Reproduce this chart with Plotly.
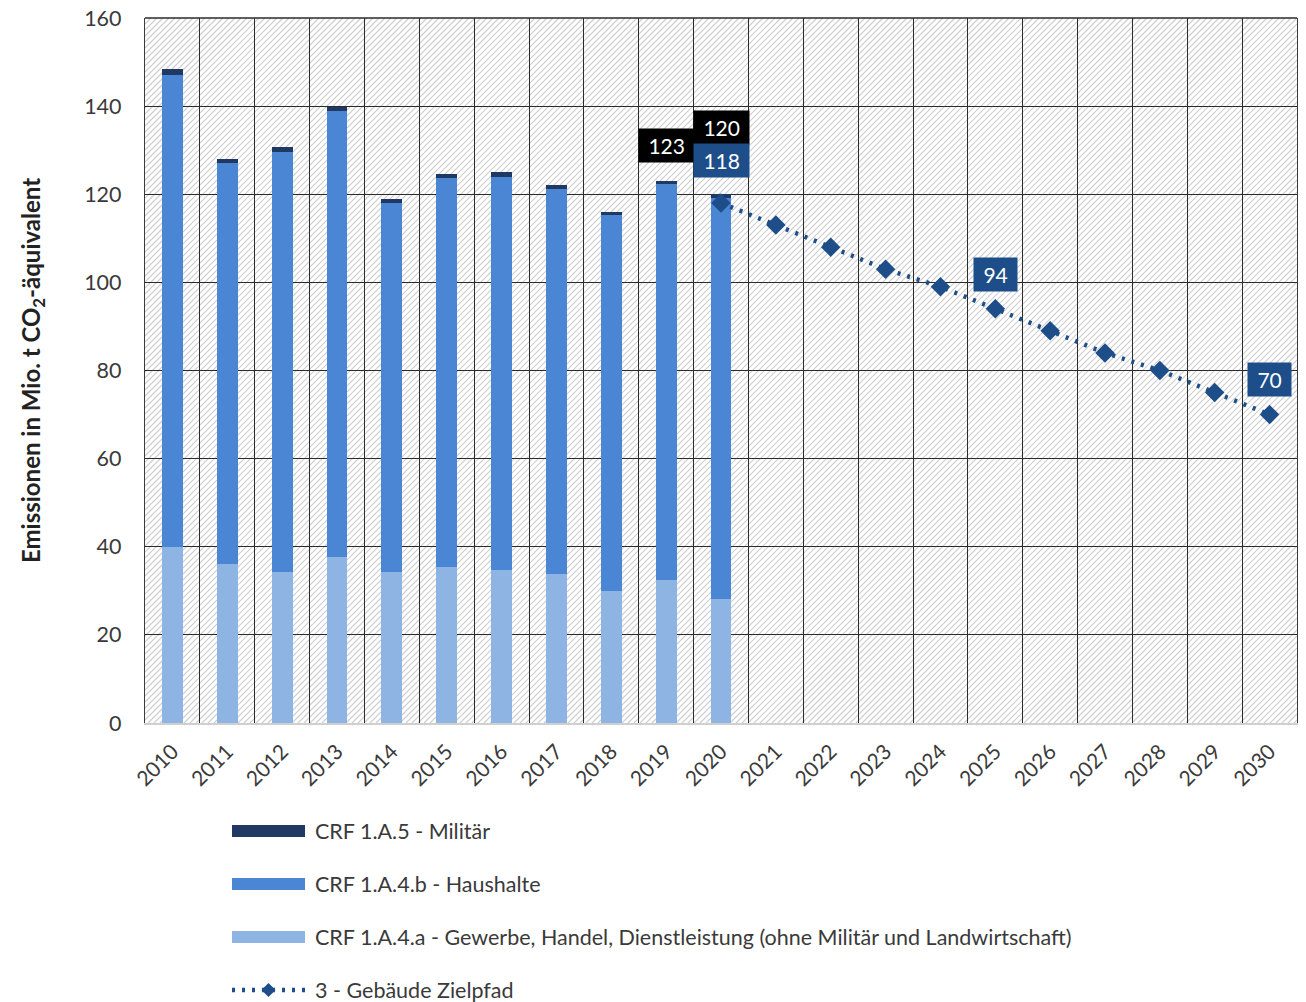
import plotly.graph_objects as go

# --- data -----------------------------------------------------------------
years = [str(y) for y in range(2010, 2031)]
hist_years = years[:11]          # 2010-2020 inventory years
path_years = years[10:]          # 2020-2030 target path

gewerbe = [40.0, 36.1, 34.3, 37.7, 34.3, 35.4, 34.7, 33.8, 30.0, 32.5, 28.1]
haushalte = [107.1, 90.9, 95.2, 101.2, 83.7, 88.2, 89.3, 87.5, 85.4, 89.9, 91.1]
militaer = [1.3, 1.0, 1.2, 1.0, 0.9, 1.0, 1.0, 0.8, 0.6, 0.6, 0.8]
zielpfad = [118, 113, 108, 103, 99, 94, 89, 84, 80, 75, 70]

totals = [round(a + b + c, 1) for a, b, c in zip(gewerbe, haushalte, militaer)]

y_ticks = [0, 20, 40, 60, 80, 100, 120, 140, 160]

names = {
    "mil": "CRF 1.A.5 - Militär",
    "hh": "CRF 1.A.4.b - Haushalte",
    "gw": "CRF 1.A.4.a - Gewerbe, Handel, Dienstleistung (ohne Militär und Landwirtschaft)",
    "zp": "3 - Gebäude Zielpfad",
}

# --- styling --------------------------------------------------------------
C_MIL = "#1f3864"
C_HH = "#4a86d4"
C_GW = "#8db4e2"
C_ZP = "#1d4e89"
FONT = "Lato"
TXT = "#3a3a3a"

W, H = 1306, 1002
M_L, M_R, M_T, M_B = 145, 9, 18, 279
PW, PH = W - M_L - M_R, H - M_T - M_B

fig = go.Figure()

fig.add_trace(go.Bar(x=hist_years, y=gewerbe, name=names["gw"], marker_color=C_GW,
                     marker_line_width=0))
fig.add_trace(go.Bar(x=hist_years, y=haushalte, name=names["hh"], marker_color=C_HH,
                     marker_line_width=0))
fig.add_trace(go.Bar(x=hist_years, y=militaer, name=names["mil"], marker_color=C_MIL,
                     marker_line_width=0))
fig.add_trace(go.Scatter(x=path_years, y=zielpfad, name=names["zp"], mode="lines+markers",
                         line=dict(color=C_ZP, width=4.5, dash="3px,7px"),
                         marker=dict(symbol="diamond", size=15, color=C_ZP)))

# --- diagonal hatching of the plot background -------------------------------
step = 6.0
segs = []
c = -PH
while c <= PW:
    if c >= 0:
        u0, v0 = c, 0.0
    else:
        u0, v0 = 0.0, -c
    if PW - c <= PH:
        u1, v1 = PW, PW - c
    else:
        u1, v1 = PH + c, PH
    segs.append(f"M{u0 / PW:.5f},{v0 / PH:.5f}L{u1 / PW:.5f},{v1 / PH:.5f}")
    c += step
hatch = dict(type="path", path="".join(segs), xref="paper", yref="paper",
             line=dict(color="#cfcfcf", width=1.2), layer="below")

shapes = [hatch]
# top border of the plot area
shapes.append(dict(type="line", xref="paper", yref="paper", x0=0, x1=1, y0=1, y1=1,
                   line=dict(color="#2b2b2b", width=1.3), layer="above"))

# --- value labels -----------------------------------------------------------
# numeric-looking category names are addressed by their index on the axis
NB = "&nbsp;"
i19 = hist_years.index("2019")
i20 = hist_years.index("2020")
labels = [
    ("2019", totals[i19], 36, "black"),
    ("2020", totals[i20], 67, "black"),
    ("2020", zielpfad[0], 43, C_ZP),
    ("2025", zielpfad[path_years.index("2025")], 34, C_ZP),
    ("2030", zielpfad[path_years.index("2030")], 35, C_ZP),
]
annotations = []
for xv, yv, shift, bg in labels:
    annotations.append(dict(x=years.index(xv), y=yv, xref="x", yref="y",
                            text=NB + f"{yv:.0f}" + NB,
                            showarrow=False, yshift=shift,
                            xanchor="center", yanchor="middle", bgcolor=bg, borderpad=4,
                            font=dict(family=FONT, size=21, color="white")))

# --- legend drawn beneath the chart ----------------------------------------
def px_x(px):
    return (px - M_L) / PW


def px_y(py):
    return (H - M_B - py) / PH


key_x0, key_x1, text_x = 232, 305, 313
legend_rows = [("mil", C_MIL, 831), ("hh", C_HH, 884), ("gw", C_GW, 937)]
for key, col, yc in legend_rows:
    shapes.append(dict(type="rect", xref="paper", yref="paper",
                       x0=px_x(key_x0), x1=px_x(key_x1), y0=px_y(yc + 6), y1=px_y(yc - 6),
                       fillcolor=col, line_width=0))
    annotations.append(dict(x=px_x(text_x), y=px_y(yc), xref="paper", yref="paper",
                            text=names[key], showarrow=False, xanchor="left", yanchor="middle",
                            font=dict(family=FONT, size=21.5, color=TXT)))
yz = 990
shapes.append(dict(type="line", xref="paper", yref="paper",
                   x0=px_x(key_x0), x1=px_x(key_x1), y0=px_y(yz), y1=px_y(yz),
                   line=dict(color=C_ZP, width=4.5, dash="3px,7px")))
cx, r = (key_x0 + key_x1) / 2, 7
shapes.append(dict(type="path", xref="paper", yref="paper",
                   path=(f"M{px_x(cx - r):.5f},{px_y(yz):.5f}L{px_x(cx):.5f},{px_y(yz - r):.5f}"
                         f"L{px_x(cx + r):.5f},{px_y(yz):.5f}L{px_x(cx):.5f},{px_y(yz + r):.5f}Z"),
                   fillcolor=C_ZP, line_width=0))
annotations.append(dict(x=px_x(text_x), y=px_y(yz), xref="paper", yref="paper",
                        text=names["zp"], showarrow=False, xanchor="left", yanchor="middle",
                        font=dict(family=FONT, size=21.5, color=TXT)))

fig.update_layout(
    width=W, height=H,
    margin=dict(l=M_L, r=M_R, t=M_T, b=M_B, pad=0, autoexpand=False),
    barmode="stack", bargap=0.62,
    paper_bgcolor="white", plot_bgcolor="white",
    showlegend=False,
    font=dict(family=FONT, color=TXT),
    shapes=shapes, annotations=annotations,
)
fig.update_xaxes(
    type="category", categoryorder="array", categoryarray=years, range=[-0.5, 20.5],
    tickson="boundaries", showgrid=True, gridcolor="#2b2b2b", gridwidth=1.3,
    showline=True, linecolor="#cfcfcf", linewidth=2, ticks="",
    ticklabelstandoff=6, automargin=False,
    tickangle=-45, tickfont=dict(family=FONT, size=21, color=TXT),
)
fig.update_yaxes(
    range=[0, 160], tickvals=y_ticks, showgrid=True, gridcolor="#2b2b2b", gridwidth=1.3,
    zeroline=False, showline=True, mirror=True, linecolor="#3a3a3a", linewidth=1.3,
    ticks="", ticklabelstandoff=18, automargin=False,
    tickfont=dict(family=FONT, size=21.5, color=TXT),
    title=dict(text="<b>Emissionen in Mio. t CO<sub>2</sub>-äquivalent</b>", standoff=36,
               font=dict(family=FONT, size=24, color="#222")),
)

fig.write_html("out.html")
